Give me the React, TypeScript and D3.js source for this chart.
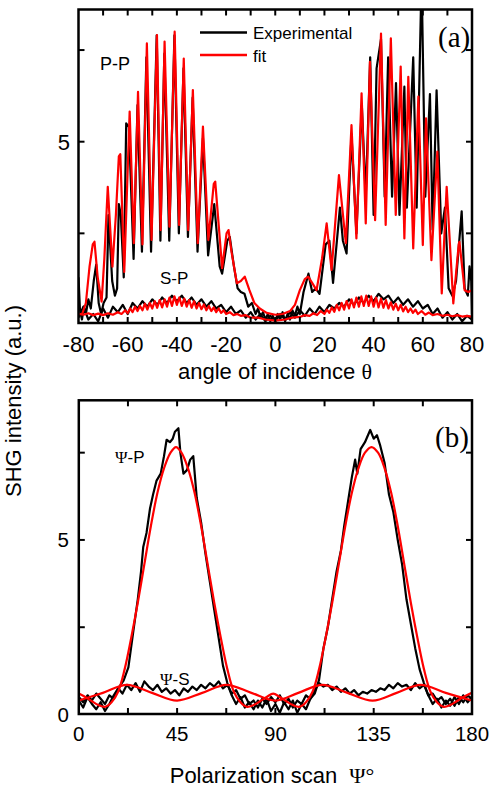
import React from 'react';
import * as d3 from 'd3';

type P = [number, number];

// ---------- Panel (a): angle of incidence scans ----------
const ppFit: P[] = [
  [-80,0.3],[-78.5,0.3],[-77,0.6],[-75.5,1.6],[-74.2,2.2],[-73.5,2.27],[-72.2,1.3],[-70.6,0.64],[-69.5,1.8],[-68.1,3.77],
  [-66.2,1.59],[-64.8,3.0],[-63.6,4.6],[-63.0,4.66],[-61.4,1.45],[-59.2,5.82],[-57.5,2.23],[-55.8,6.36],[-54.0,2.2],[-52.2,7.68],
  [-50.3,2.32],[-48.1,7.91],[-46.6,2.59],[-45.0,7.73],[-43.0,2.68],[-40.9,8.0],[-39.1,2.73],[-37.2,7.27],[-35.4,2.59],[-33.5,6.41],
  [-31.5,2.23],[-29.4,5.41],[-27.2,2.32],[-25.0,3.85],[-24.4,3.91],[-21.6,1.55],[-19.8,2.5],[-19.0,2.59],[-17.8,2.0],[-15.6,1.14],
  [-14.0,1.2],[-12.4,1.32],[-10.5,0.95],[-8.5,0.6],[-6.3,0.45],[-3.5,0.33],[0,0.28],[3,0.3],[6,0.38],[8,0.55],[10,0.95],[12,1.25],
  [13.4,1.32],[15,1.15],[16.8,0.95],[19,1.8],[20.9,2.77],[22.9,1.5],[25.9,4.09],[28.7,2.23],[31.0,5.45],[33.0,2.36],[35.1,6.32],
  [36.8,2.77],[38.5,7.18],[40.6,2.86],[43.0,7.95],[44.9,2.73],[47.0,7.82],[49.0,3.0],[51.0,7.05],[52.5,2.36],[54.1,6.77],[56.1,2.09],
  [58.2,6.23],[60.0,2.18],[61.3,5.64],[63.5,1.77],[65.9,4.73],[67.7,0.86],[69.7,3.77],[72.4,0.59],[74.6,2.2],[74.9,2.27],[77,0.95],
  [78.5,0.9],[80,0.95]
];

const ppExp: P[] = [
  [-80,1.3],[-79.4,0.4],[-78.6,0.15],[-77.8,0.5],[-77,0.3],[-76,0.7],[-75,0.45],[-73.8,1.2],[-72.8,1.65],[-71.8,0.6],[-70.8,0.3],
  [-69.8,0.6],[-68.6,0.75],[-67.8,3.0],[-66.3,1.2],[-65.2,0.8],[-64.3,1.0],[-63.6,3.3],[-62.8,3.0],[-61.6,1.3],[-60.6,5.5],[-59.5,5.4],
  [-57.6,1.8],[-56,6.0],[-54.2,2.0],[-52.4,7.3],[-50.5,2.0],[-48.2,7.9],[-46.7,2.3],[-45.1,7.4],[-43.1,2.3],[-41,7.9],[-39.2,2.5],
  [-37.3,7.0],[-35.5,2.4],[-33.6,6.2],[-31.6,2.0],[-29.4,5.1],[-27.3,1.9],[-24.8,3.3],[-22.6,1.6],[-21.6,1.4],[-19.5,2.3],[-18.5,2.4],
  [-16.8,1.6],[-15.3,1.0],[-14,0.9],[-12.5,0.85],[-11,0.5],[-9.5,0.6],[-8,0.3],[-7,0.45],[-6,0.2],[-5,0.35],[-4,0.15],[-3,0.3],
  [-2,0.1],[-1,0.25],[0,0.1],[1,0.3],[2,0.15],[3,0.35],[4,0.1],[5,0.3],[6,0.15],[7,0.4],[8,0.25],[9,0.5],[10,0.3],[11.5,0.9],
  [13.5,1.4],[15,0.9],[16.5,1.0],[18,0.85],[20.5,2.2],[22,2.3],[23.5,1.15],[26.3,3.2],[27.5,2.3],[29,1.95],[31,5.2],[33,2.5],
  [35.2,6.0],[36.8,3.5],[38.6,7.3],[40,3.0],[41.2,7.0],[43,7.8],[44.5,3.5],[45.9,7.3],[47.5,3.5],[49.1,6.6],[50.5,3.0],[52.5,6.5],
  [53.5,3.2],[56.1,7.3],[57.5,3.2],[59.5,9.5],[61,3.5],[62.9,6.3],[64,2.6],[65.6,6.4],[67.5,2.5],[69,3.2],[70.5,1.0],[72,0.8],
  [73.5,1.2],[75.8,3.1],[77,1.0],[78.3,0.8],[79,1.6],[79.7,1.2],[80,0.3]
];

const spFit: P[] = [
  [-80,0.3],[-78,0.28],[-76,0.32],[-74,0.27],[-72,0.31],[-70,0.27],[-68,0.32],[-66,0.28],[-64,0.35],[-62.5,0.3],[-61,0.4],[-60,0.32],
  [-59,0.45],[-58,0.35],[-57,0.5],[-56,0.38],[-55,0.52],[-54,0.4],[-53,0.58],[-52,0.42],[-51,0.6],[-50,0.45],[-49,0.65],[-48,0.47],
  [-47,0.68],[-46,0.48],[-45,0.7],[-44,0.5],[-43,0.75],[-42,0.52],[-41,0.78],[-40,0.55],[-39,0.75],[-38,0.52],[-37,0.72],[-36,0.5],
  [-35,0.68],[-34,0.47],[-33,0.65],[-32,0.45],[-31,0.6],[-30,0.43],[-29,0.56],[-28,0.4],[-27,0.52],[-26,0.38],[-25,0.48],[-24,0.35],
  [-23,0.45],[-22,0.33],[-21,0.4],[-20,0.3],[-18.5,0.35],[-17,0.27],[-15.5,0.3],[-14,0.25],[-12,0.27],[-10,0.2],[-7,0.2],[-4,0.15],
  [0,0.12],[4,0.15],[7,0.2],[10,0.22],[12,0.27],[14,0.25],[15.5,0.32],[17,0.27],[18.5,0.38],[20,0.3],[21,0.42],[22,0.33],[23,0.48],
  [24,0.36],[25,0.55],[26,0.4],[27,0.6],[28,0.42],[29,0.65],[30,0.45],[31,0.7],[32,0.48],[33,0.75],[34,0.5],[35,0.78],[36,0.52],
  [37,0.8],[38,0.52],[39,0.78],[40,0.5],[41,0.75],[42,0.48],[43,0.72],[44,0.47],[45,0.68],[46,0.45],[47,0.62],[48,0.42],[49,0.58],
  [50,0.4],[51,0.55],[52,0.37],[53,0.5],[54,0.35],[55,0.45],[56,0.33],[57,0.42],[58,0.3],[59.5,0.38],[61,0.28],[62.5,0.34],[64,0.27],
  [66,0.3],[68,0.25],[70,0.28],[72,0.24],[74,0.27],[76,0.23],[78,0.25],[80,0.23]
];

const spExp: P[] = [
  [-80,0.2],[-78,0.5],[-76,0.15],[-74,0.3],[-72,0.1],[-70,0.45],[-68,0.2],[-66,0.5],[-64,0.35],[-62,0.55],[-60,0.3],[-58,0.6],
  [-56,0.45],[-54,0.65],[-52,0.5],[-50,0.7],[-48,0.55],[-46,0.75],[-44,0.6],[-42,0.8],[-40,0.65],[-38,0.8],[-36,0.6],[-34,0.75],
  [-32,0.55],[-30,0.7],[-28,0.5],[-26,0.65],[-24,0.45],[-22,0.55],[-20,0.35],[-18,0.5],[-16,0.3],[-14,0.4],[-12,0.2],[-10,0.35],
  [-8,0.15],[-6,0.3],[-4,0.1],[-2,0.25],[0,0.1],[2,0.3],[4,0.15],[6,0.35],[8,0.2],[10,0.4],[12,0.25],[14,0.45],[16,0.3],[18,0.5],
  [20,0.35],[22,0.55],[24,0.45],[26,0.6],[28,0.5],[30,0.7],[32,0.55],[34,0.75],[36,0.6],[38,0.8],[40,0.65],[42,0.85],[44,0.7],
  [46,0.8],[48,0.6],[50,0.75],[52,0.55],[54,0.7],[56,0.5],[58,0.65],[60,0.45],[62,0.55],[64,0.3],[66,0.45],[68,0.2],[70,0.35],
  [72,0.15],[74,0.3],[76,0.1],[78,0.25],[80,0.15]
];

// ---------- Panel (b): polarization scans ----------
const psiPFit: P[] = [
  [0,0.6],[3,0.5],[6,0.38],[9,0.27],[12,0.22],[15,0.35],[18,0.65],[21,1.3],[24,2.2],[27,3.2],[30,4.3],[33,5.4],[36,6.35],[39,7.05],
  [42,7.5],[44.5,7.66],[47,7.5],[50,7.05],[53,6.35],[56,5.4],[59,4.3],[62,3.2],[65,2.2],[68,1.3],[71,0.65],[74,0.35],[77,0.22],
  [80,0.27],[83,0.38],[86,0.5],[89,0.6],[92,0.5],[95,0.38],[98,0.27],[101,0.22],[104,0.35],[107,0.65],[110,1.3],[113,2.2],[116,3.2],
  [119,4.3],[122,5.4],[125,6.35],[128,7.05],[131,7.5],[134,7.66],[137,7.5],[140,7.05],[143,6.35],[146,5.4],[149,4.3],[152,3.2],
  [155,2.2],[158,1.3],[161,0.65],[164,0.35],[167,0.22],[170,0.27],[173,0.38],[176,0.5],[180,0.62]
];

const psiPExp: P[] = [
  [0,0.4],[2,0.2],[4,0.5],[6,0.3],[8,0.15],[10,0.35],[12,0.1],[14,0.3],[16,0.55],[18,0.75],[20.5,0.97],[22.7,1.35],[25,2.4],
  [27,3.3],[28.5,4.1],[29.5,4.8],[31,5.2],[32.6,5.9],[34,6.3],[35.6,6.7],[37.5,6.9],[39,7.4],[40.2,7.87],[41.7,7.8],[43,7.9],
  [44,8.1],[45.6,8.2],[46.5,7.5],[47.9,6.9],[49.5,7.0],[51,7.3],[52.4,7.4],[54,6.2],[56,5.5],[58,4.6],[60,3.8],[62,3.0],[64,2.2],
  [66,1.4],[68,0.9],[70,0.55],[72,0.3],[74,0.5],[76,0.2],[78,0.35],[80,0.15],[82,0.4],[84,0.2],[86,0.45],[88,0.1],[90,0.3],
  [92,0.05],[94,0.35],[96,0.15],[98,0.4],[100,0.05],[102,0.3],[104,0.15],[106,0.45],[108,0.6],[110,1.0],[112,1.9],[114,2.5],
  [116,3.3],[118,4.1],[120,4.7],[121.5,5.4],[123,6.0],[125,6.8],[126.5,7.3],[127.5,6.9],[129,7.6],[131,7.8],[133.4,8.15],[135,7.9],
  [136.5,8.0],[138,7.7],[140,7.2],[142,6.3],[144,5.8],[146,5.0],[148,4.3],[150,3.3],[152,2.6],[154,1.9],[156,1.3],[158,0.9],
  [160,0.55],[162,0.3],[164,0.45],[166,0.2],[168,0.4],[170,0.25],[172,0.5],[174,0.3],[176,0.55],[178,0.35],[180,0.5]
];

const psiSFit: P[] = [
  [0,0.4],[11,0.62],[22,0.85],[33.5,0.62],[45,0.4],[56.5,0.62],[67.5,0.85],[79,0.62],[90,0.4],[100.5,0.62],[111.5,0.85],
  [123,0.62],[134.5,0.4],[145.5,0.62],[156.5,0.85],[168,0.62],[180,0.4]
];

const psiSExp: P[] = [
  [0,0.5],[2,0.35],[4,0.55],[6,0.4],[8,0.6],[10,0.45],[12,0.3],[14,0.55],[16,0.45],[18,0.75],[20,0.6],[22,0.85],[24,0.7],[26,0.9],
  [28,0.65],[30,0.95],[32,0.8],[34,0.7],[36,0.85],[38,0.65],[40,0.75],[42,0.6],[44,0.7],[46,0.55],[48,0.75],[50,0.65],[52,0.8],
  [54,0.7],[56,0.85],[58,0.75],[60,0.9],[62,0.8],[64,0.95],[66,0.75],[68,0.85],[70,0.6],[72,0.7],[74,0.45],[76,0.55],[78,0.3],
  [80,0.4],[82,0.2],[84,0.45],[86,0.3],[88,0.5],[90,0.35],[92,0.55],[94,0.3],[96,0.45],[98,0.2],[100,0.4],[102,0.3],[104,0.55],
  [106,0.45],[108,0.7],[110,0.9],[112,0.8],[114,0.85],[116,0.7],[118,0.8],[120,0.65],[122,0.75],[124,0.6],[126,0.7],[128,0.55],
  [130,0.65],[132,0.6],[134,0.7],[136,0.65],[138,0.75],[140,0.7],[142,0.85],[144,0.75],[146,0.9],[148,0.8],[150,0.85],[152,0.7],
  [154,0.9],[156,0.75],[158,0.85],[160,0.55],[162,0.6],[164,0.4],[166,0.5],[168,0.3],[170,0.45],[172,0.25],[174,0.5],[176,0.35],
  [178,0.55],[180,0.45]
];

// ---------- Ticks ----------
const thetaLabels = [-80, -60, -40, -20, 0, 20, 40, 60, 80];
const thetaTicks = [-70, -60, -50, -40, -30, -20, -10, 0, 10, 20, 30, 40, 50, 60, 70];
const psiLabels = [0, 45, 90, 135, 180];
const psiTicks = [22.5, 45, 67.5, 90, 112.5, 135, 157.5];
const topYTicks = [2.5, 5, 7.5];
const topYLabels = [5];
const botYTicks = [2.5, 5, 7.5];
const botYLabels = [0, 5];

const SANS = '"Liberation Sans", Arial, sans-serif';
const SERIF = '"Liberation Serif", "Times New Roman", serif';
const RED = '#ff0000';

export default function App() {
  // Panel (a) geometry
  const aL = 78.5, aR = 472, aT = 9.5, aB = 323;
  const xA = d3.scaleLinear().domain([-80, 80]).range([aL, aR]);
  const yA = d3.scaleLinear().domain([0, 5]).range([325, 141.7]);
  // Panel (b)
  const bL = 78.8, bR = 472, bT = 400.3, bB = 714;
  const xB = d3.scaleLinear().domain([0, 180]).range([bL, bR]);
  const yB = d3.scaleLinear().domain([0, 9]).range([714.5, 400.3]);

  const lineA = d3.line<P>().x(d => xA(d[0])).y(d => yA(d[1]));
  const lineB = d3.line<P>().x(d => xB(d[0])).y(d => yB(d[1]));
  const lineBs = d3.line<P>().x(d => xB(d[0])).y(d => yB(d[1])).curve(d3.curveCatmullRom.alpha(0.5));

  const TL = 6;
  const lw = 2.2;

  return (
    <svg width={491} height={789} style={{ position: 'absolute', left: 0, top: 0, background: '#fff' }}>
      <defs>
        <clipPath id="clipA"><rect x={aL} y={aT} width={aR - aL} height={aB - aT} /></clipPath>
        <clipPath id="clipB"><rect x={bL} y={bT} width={bR - bL} height={bB - bT} /></clipPath>
      </defs>

      {/* Panel (a) data */}
      <g clipPath="url(#clipA)" fill="none" strokeLinejoin="round">
        <path d={lineA(spExp) || ''} stroke="#000" strokeWidth={lw} />
        <path d={lineA(ppExp) || ''} stroke="#000" strokeWidth={lw} />
        <path d={lineA(spFit) || ''} stroke={RED} strokeWidth={lw} />
        <path d={lineA(ppFit) || ''} stroke={RED} strokeWidth={lw} />
      </g>

      {/* Panel (a) frame and ticks */}
      <rect x={aL} y={aT} width={aR - aL} height={aB - aT} fill="none" stroke="#000" strokeWidth={2.5} />
      {thetaTicks.map(t => (
        <g key={'ta' + t} stroke="#000" strokeWidth={2}>
          <line x1={xA(t)} x2={xA(t)} y1={aB} y2={aB - TL} />
          <line x1={xA(t)} x2={xA(t)} y1={aT} y2={aT + TL} />
        </g>
      ))}
      {topYTicks.map(t => (
        <g key={'ya' + t} stroke="#000" strokeWidth={2}>
          <line x1={aL} x2={aL + TL} y1={yA(t)} y2={yA(t)} />
          <line x1={aR} x2={aR - TL} y1={yA(t)} y2={yA(t)} />
        </g>
      ))}
      {thetaLabels.map(t => (
        <text key={'la' + t} x={xA(t)} y={351.5} textAnchor="middle" fontFamily={SANS} fontSize={22}>{t}</text>
      ))}
      {topYLabels.map(t => (
        <text key={'lya' + t} x={70} y={yA(t) + 7.8} textAnchor="end" fontFamily={SANS} fontSize={22}>{t}</text>
      ))}
      <text x={275} y={379} textAnchor="middle" fontFamily={SANS} fontSize={22}>
        angle of incidence <tspan fontFamily={SERIF}>θ</tspan>
      </text>

      {/* Legend */}
      <line x1={200} x2={247} y1={32.5} y2={32.5} stroke="#000" strokeWidth={2.5} />
      <text x={253} y={38.5} fontFamily={SANS} fontSize={17}>Experimental</text>
      <line x1={200} x2={247} y1={55} y2={55} stroke={RED} strokeWidth={2.5} />
      <text x={253} y={61.5} fontFamily={SANS} fontSize={17}>fit</text>

      <text x={100} y={70} fontFamily={SANS} fontSize={18}>P-P</text>
      <text x={160} y={283.5} fontFamily={SANS} fontSize={17}>S-P</text>
      <text x={438} y={46.5} fontFamily={SERIF} fontSize={29}>(a)</text>

      {/* Panel (b) data */}
      <g clipPath="url(#clipB)" fill="none" strokeLinejoin="round">
        <path d={lineB(psiSExp) || ''} stroke="#000" strokeWidth={lw} />
        <path d={lineB(psiPExp) || ''} stroke="#000" strokeWidth={lw} />
        <path d={lineBs(psiSFit) || ''} stroke={RED} strokeWidth={lw} />
        <path d={lineBs(psiPFit) || ''} stroke={RED} strokeWidth={lw} />
      </g>

      <rect x={bL} y={bT} width={bR - bL} height={bB - bT} fill="none" stroke="#000" strokeWidth={2.5} />
      {psiTicks.map(t => (
        <g key={'tb' + t} stroke="#000" strokeWidth={2}>
          <line x1={xB(t)} x2={xB(t)} y1={bB} y2={bB - TL} />
          <line x1={xB(t)} x2={xB(t)} y1={bT} y2={bT + TL} />
        </g>
      ))}
      {botYTicks.map(t => (
        <g key={'yb' + t} stroke="#000" strokeWidth={2}>
          <line x1={bL} x2={bL + TL} y1={yB(t)} y2={yB(t)} />
          <line x1={bR} x2={bR - TL} y1={yB(t)} y2={yB(t)} />
        </g>
      ))}
      {psiLabels.map(t => (
        <text key={'lb' + t} x={xB(t)} y={740.5} textAnchor="middle" fontFamily={SANS} fontSize={20.5}>{t}</text>
      ))}
      {botYLabels.map(t => (
        <text key={'lyb' + t} x={69} y={yB(t) + 7.3} textAnchor="end" fontFamily={SANS} fontSize={20.5}>{t}</text>
      ))}
      <text x={272} y={783} textAnchor="middle" fontFamily={SANS} fontSize={22}>
        Polarization scan<tspan dx={12} fontFamily={SERIF}>Ψ°</tspan>
      </text>

      <text x={115} y={463} fontFamily={SANS} fontSize={17}><tspan fontFamily={SERIF}>Ψ</tspan>-P</text>
      <text x={160} y={685} fontFamily={SANS} fontSize={17}><tspan fontFamily={SERIF}>Ψ</tspan>-S</text>
      <text x={435} y={446.5} fontFamily={SERIF} fontSize={29}>(b)</text>

      {/* Shared y-axis title */}
      <text transform="translate(21,401) rotate(-90)" textAnchor="middle" fontFamily={SANS} fontSize={22}>SHG intensity (a.u.)</text>
    </svg>
  );
}
